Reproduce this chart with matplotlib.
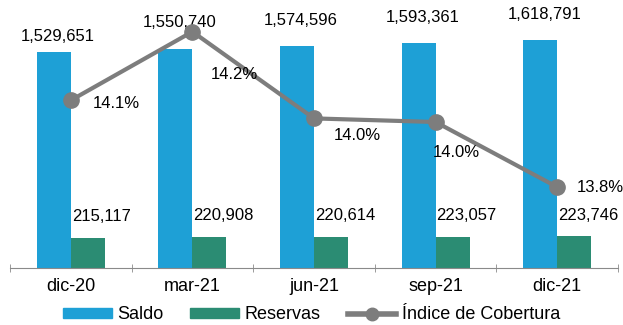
import matplotlib.pyplot as plt
import numpy as np
from matplotlib.lines import Line2D
from matplotlib.patches import Patch

plt.rcParams['font.family'] = ['Liberation Sans', 'DejaVu Sans']

periods = ["dic-20", "mar-21", "jun-21", "sep-21", "dic-21"]
saldo = [1529651, 1550740, 1574596, 1593361, 1618791]
reservas = [215117, 220908, 220614, 223057, 223746]
cobertura = [14.06, 14.25, 14.01, 14.00, 13.82]  # %

blue = "#1ea0d6"
green = "#2b8c73"
gray = "#7d7d7d"

fig = plt.figure(figsize=(6.23, 3.25), dpi=100)
ax = fig.add_axes([10 / 623, 57 / 325, 608 / 623, 258 / 325])
ax2 = ax.twinx()

x = np.arange(len(periods))
width = 0.28

ax.bar(x - width / 2, saldo, width, color=blue, zorder=2)
ax.bar(x + width / 2, reservas, width, color=green, zorder=2)

saldo_off = [6, 14, 13, 13, 13]
for xi, v, dy in zip(x, saldo, saldo_off):
    ax.annotate(f"{v:,}", (xi - width / 2, v), xytext=(3, dy), textcoords="offset points",
                ha="center", va="bottom", fontsize=12)
for xi, v in zip(x, reservas):
    ax.annotate(f"{v:,}", (xi + width / 2, v), xytext=(10, 10), textcoords="offset points",
                ha="center", va="bottom", fontsize=12)

ax2.plot(x, cobertura, color=gray, lw=3, marker="o", ms=11, zorder=3)
offsets = [(33, -2), (30, -31), (31, -12), (15, -22), (31, 0)]
for xi, v, off in zip(x, cobertura, offsets):
    ax2.annotate(f"{v:.1f}%", (xi, v), xytext=off, textcoords="offset points",
                 ha="center", va="center", fontsize=12)

ax.set_xlim(-0.5, len(periods) - 0.5)
ax.set_ylim(0, 1830000)
ax2.set_ylim(13.596, 14.31)

for a in (ax, ax2):
    for s in ["top", "left", "right"]:
        a.spines[s].set_visible(False)
    a.set_yticks([])
ax.spines["bottom"].set_color("#8a8a8a")
ax2.spines["bottom"].set_visible(False)

ax.set_xticks(x)
ax.set_xticklabels(periods, fontsize=13)
ax.tick_params(axis="x", which="major", length=0, pad=7)
ax.set_xticks(np.arange(-0.5, len(periods)), minor=True)
ax.tick_params(axis="x", which="minor", length=6, direction="inout", color="#8a8a8a")

handles = [
    Patch(color=blue, label="Saldo"),
    Patch(color=green, label="Reservas"),
    Line2D([], [], color=gray, lw=4, marker="o", ms=9, label="Índice de Cobertura"),
]
fig.legend(handles=handles, loc="lower center", bbox_to_anchor=(0.5, -0.045), ncol=3,
           frameon=False, fontsize=13, handlelength=2.7, handleheight=0.45,
           columnspacing=1.5, handletextpad=0.3)

fig.savefig("out.png", dpi=100)
